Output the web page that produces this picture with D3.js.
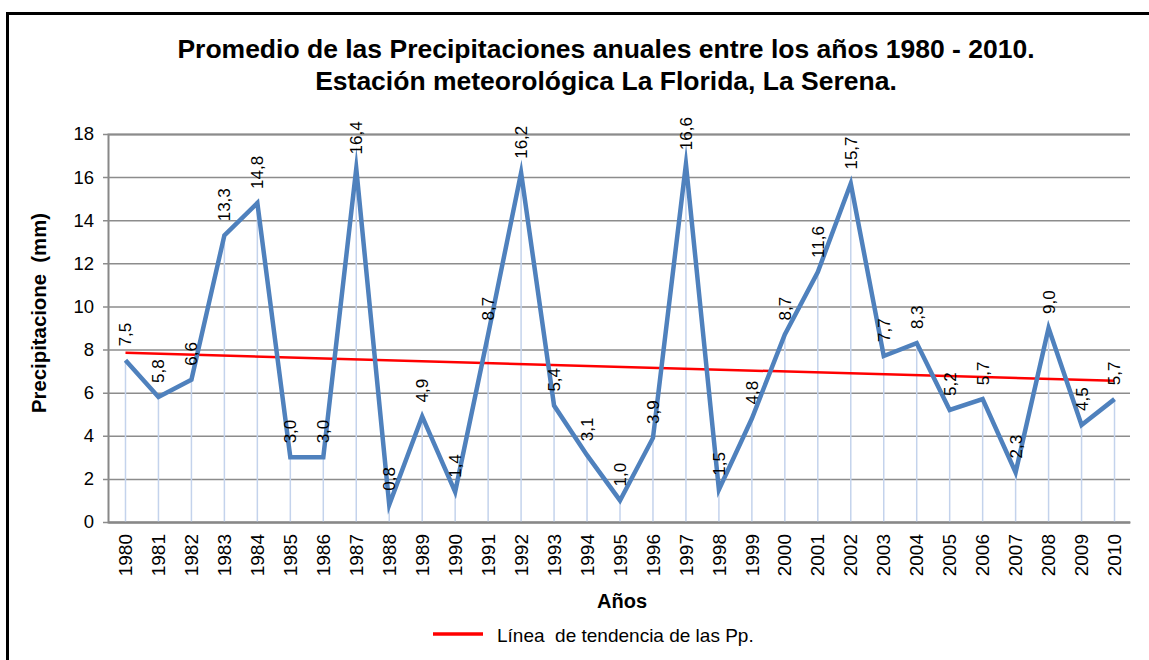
<!DOCTYPE html>
<html><head><meta charset="utf-8">
<script src="https://cdn.jsdelivr.net/npm/d3@7"></script>
<style>body{margin:0;background:#fff;}svg{display:block;font-family:"Liberation Sans",Arial,sans-serif;}text{white-space:pre;}</style>
</head><body><svg id="c" width="1149" height="660"></svg>
<script>
const years = [1980,1981,1982,1983,1984,1985,1986,1987,1988,1989,1990,1991,1992,1993,1994,1995,1996,1997,1998,1999,2000,2001,2002,2003,2004,2005,2006,2007,2008,2009,2010];
const precip = [7.5,5.8,6.6,13.3,14.8,3.0,3.0,16.4,0.8,4.9,1.4,8.7,16.2,5.4,3.1,1.0,3.9,16.6,1.5,4.8,8.7,11.6,15.7,7.7,8.3,5.2,5.7,2.3,9.0,4.5,5.7];
const trendEnds = [7.85, 6.55];
const yTicks = [0,2,4,6,8,10,12,14,16,18];

const svg = d3.select("#c");
const m = {l:108, r:1130, t:134, b:522};
const x = d3.scaleBand().domain(years).range([m.l, m.r]);
const xc = d => x(d) + x.bandwidth()/2 + 1;
const y = d3.scaleLinear().domain([0,18]).range([m.b, m.t]);

// border
svg.append("rect").attr("x",7.5).attr("y",13.5).attr("width",1160).attr("height",700)
  .attr("fill","none").attr("stroke","#000").attr("stroke-width",3);

// title
const title = svg.append("text").attr("text-anchor","middle").attr("font-weight","bold").attr("font-size",26.5).attr("fill","#000");
title.append("tspan").attr("x",606).attr("y",58).text("Promedio de las Precipitaciones anuales entre los años 1980 - 2010.");
title.append("tspan").attr("x",606).attr("y",90).text("Estación meteorológica La Florida, La Serena.");

// y grid + axis
const yAxis = d3.axisLeft(y).tickValues(yTicks).tickSize(-(m.r-m.l)).tickPadding(14).tickFormat(d3.format("d"));
const gy = svg.append("g").attr("transform",`translate(${m.l},0)`).call(yAxis);
gy.select(".domain").attr("stroke","#888").attr("stroke-width",2);
gy.selectAll(".tick line").attr("stroke","#8c8c8c").attr("stroke-width",1.5).attr("x1",-5);
gy.selectAll(".tick text").attr("font-size",18.5).attr("fill","#000").attr("font-family","Liberation Sans, Arial, sans-serif");

// drop lines
svg.append("g").selectAll("line").data(years).join("line")
  .attr("x1",d=>xc(d)).attr("x2",d=>xc(d))
  .attr("y1",(d,i)=>y(precip[i])).attr("y2",m.b)
  .attr("stroke","#c4d3ec").attr("stroke-width",1.5);

// x axis
const xAxis = d3.axisBottom(x).tickSize(0).tickPadding(0);
const gx = svg.append("g").attr("transform",`translate(0,${m.b})`).call(xAxis);
gx.select(".domain").attr("stroke","#888").attr("stroke-width",2);
gx.selectAll(".tick text").attr("font-size",19).attr("fill","#000")
  .attr("font-family","Liberation Sans, Arial, sans-serif")
  .attr("text-anchor","end").attr("transform","rotate(-90)")
  .attr("x",-12).attr("y",0).attr("dy","0.35em");
gx.selectAll(".tick").attr("transform",d=>`translate(${xc(d)},0)`);

// trend
svg.append("line").attr("x1",xc(years[0])).attr("x2",xc(years[years.length-1]))
  .attr("y1",y(trendEnds[0])).attr("y2",y(trendEnds[1]))
  .attr("stroke","#ff0000").attr("stroke-width",2.5);

// main line
const line = d3.line().x((d,i)=>xc(years[i])).y(d=>y(d));
svg.append("path").datum(precip).attr("d",line).attr("fill","none")
  .attr("stroke","#4f81bd").attr("stroke-width",4.5).attr("stroke-linejoin","miter").attr("stroke-miterlimit",10);

// labels
svg.append("g").selectAll("text").data(precip).join("text")
  .attr("transform",(d,i)=>`translate(${xc(years[i])},${y(d)-14}) rotate(-90)`)
  .attr("text-anchor","start").attr("dy","0.35em").attr("font-size",17).attr("fill","#000")
  .text(d=>d.toFixed(1).replace(".",","));

// axis titles
svg.append("text").attr("transform","translate(46,313) rotate(-90)").attr("text-anchor","middle")
  .attr("font-weight","bold").attr("font-size",20).attr("textLength",200).attr("lengthAdjust","spacingAndGlyphs")
  .text("Precipitacione  (mm)");
svg.append("text").attr("x",622).attr("y",608).attr("text-anchor","middle")
  .attr("font-weight","bold").attr("font-size",20).text("Años");

// legend
svg.append("line").attr("x1",433).attr("x2",483).attr("y1",634).attr("y2",634).attr("stroke","#ff0000").attr("stroke-width",3.5);
svg.append("text").attr("x",497).attr("y",642).attr("font-size",19).attr("fill","#000").text("Línea  de tendencia de las Pp.");
</script></body></html>
